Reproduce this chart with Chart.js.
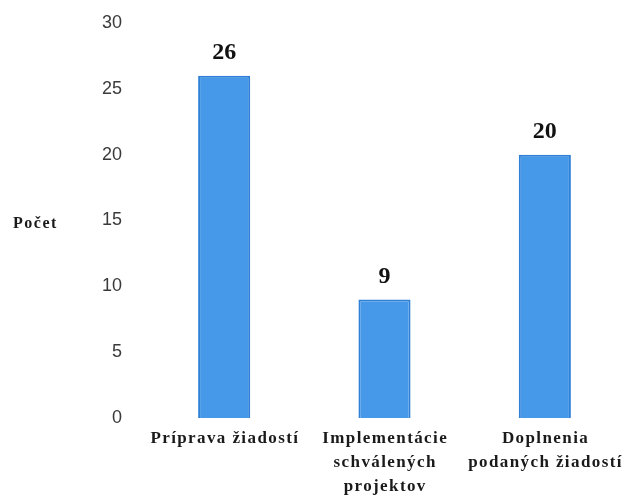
<!DOCTYPE html>
<html>
<head>
<meta charset="utf-8">
<script src="https://cdn.jsdelivr.net/npm/chart.js@4/dist/chart.umd.min.js"></script>
<style>
html,body{margin:0;padding:0;background:#fff;}
#wrap{width:631px;height:498px;position:relative;}
</style>
</head>
<body>
<div id="wrap"><canvas id="c" width="631" height="498"></canvas></div>
<script>
const categories = [["Príprava žiadostí"], ["Implementácie", "schválených", "projektov"], ["Doplnenia", "podaných žiadostí"]];
const values = [26, 9, 20];
const yTicks = [0, 5, 10, 15, 20, 25, 30];
const yTitle = "Počet";

const textPlugin = {
  id: 'textPlugin',
  afterDraw(chart) {
    const ctx = chart.ctx;
    const meta = chart.getDatasetMeta(0);
    const xs = chart.scales.x;
    ctx.save();
    // value labels
    ctx.font = 'bold 24px "Liberation Serif"';
    ctx.fillStyle = '#111';
    ctx.textAlign = 'center';
    ctx.textBaseline = 'alphabetic';
    meta.data.forEach((bar, i) => {
      ctx.fillText(String(values[i]), bar.x, bar.y - 17);
    });
    // category labels
    ctx.letterSpacing = '1.4px';
    ctx.font = 'bold 17px "Liberation Serif"';
    ctx.fillStyle = '#1a1a1a';
    ctx.textBaseline = 'middle';
    categories.forEach((lines, i) => {
      const x = xs.getPixelForTick(i);
      lines.forEach((t, j) => {
        ctx.fillText(t, x + 0.7, chart.chartArea.bottom + 21 + j * 24);
      });
    });
    // axis title
    ctx.font = 'bold 16px "Liberation Serif"';
    ctx.textAlign = 'left';
    ctx.letterSpacing = '1.5px';
    const y = chart.scales.y.getPixelForValue(15);
    ctx.fillText(yTitle, 13, y + 3);
    ctx.restore();
  }
};

new Chart(document.getElementById('c'), {
  type: 'bar',
  data: {
    labels: categories,
    datasets: [{
      data: values,
      backgroundColor: 'rgb(70,152,232)',
      borderColor: 'rgb(48,128,215)',
      borderWidth: 2,
      barPercentage: 0.325,
      categoryPercentage: 1
    }]
  },
  options: {
    responsive: false,
    animation: false,
    layout: { padding: { top: 23, right: 6, left: 0, bottom: 0 } },
    plugins: { legend: { display: false }, tooltip: { enabled: false } },
    scales: {
      x: {
        grid: { display: false, drawTicks: false },
        border: { display: false },
        ticks: { display: false },
        afterFit(scale) { scale.height = 80; scale.paddingLeft = 0; scale.paddingRight = 0; }
      },
      y: {
        min: 0, max: 30,
        grid: { display: false, drawTicks: false },
        border: { display: false },
        afterBuildTicks(scale) { scale.ticks = yTicks.map(v => ({ value: v })); },
        ticks: {
          padding: 22,
          color: '#3a3a3a',
          font: { family: '"Liberation Sans"', size: 18 }
        },
        afterFit(scale) { scale.width = 144; scale.paddingTop = 0; scale.paddingBottom = 0; }
      }
    }
  },
  plugins: [textPlugin]
});
</script>
</body>
</html>
